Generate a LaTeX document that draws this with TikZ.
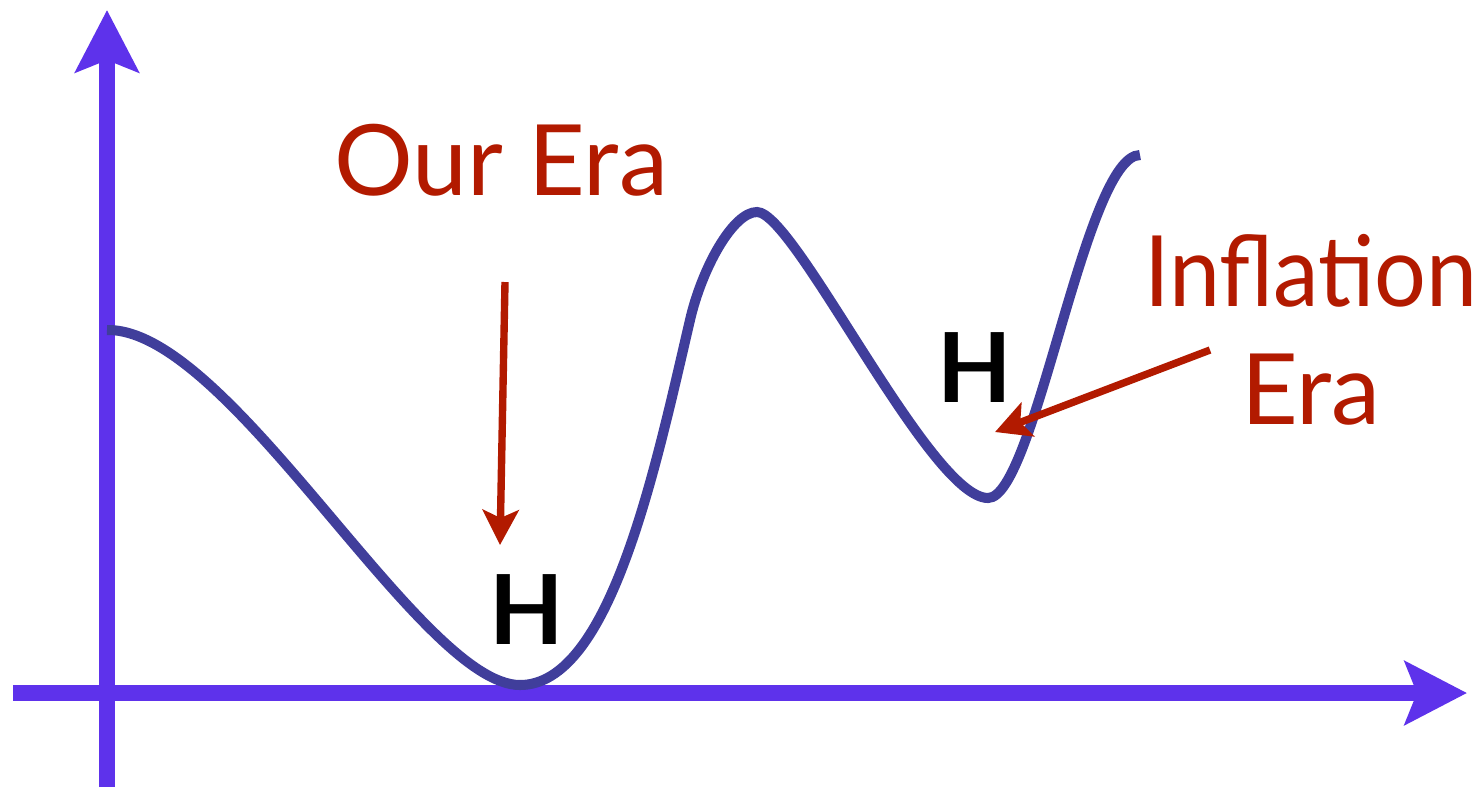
\documentclass[tikz,border=0pt]{standalone}
\usepackage{fontspec}
\setmainfont{Lato}
\usetikzlibrary{arrows.meta}
\definecolor{axisblue}{RGB}{94,50,235}
\definecolor{curveblue}{RGB}{64,62,155}
\definecolor{erared}{RGB}{178,26,0}
\begin{document}
\begin{tikzpicture}[
  x=0.01cm, y=-0.01cm,
  axis/.style={draw=axisblue, line width=4.5pt, -{Stealth[length=6.2mm, width=6.3mm, inset=1.2mm]}},
  potential/.style={draw=curveblue, line width=2.85pt},
  eralabel/.style={text=erared, font=\fontsize{28}{33.5}\selectfont, inner sep=0pt},
  higgs/.style={font=\bfseries\fontsize{27.5}{30}\selectfont, inner sep=0pt},
  pointer/.style={draw=erared, line width=2.1pt, -{Stealth[length=3.5mm, width=3.6mm, inset=0.8mm]}}
]
\useasboundingbox (0,0) rectangle (1479,787);
% axes
\draw[axis] (107,787) -- (107,10);
\draw[axis] (13,693) -- (1467,693);
% potential
\draw[potential] (107,330) .. controls (230,328) and (420,685) .. (520,685)
  .. controls (610,685) and (655,470) .. (690,320)
  .. controls (702,268) and (733,212) .. (757,212)
  .. controls (795,212) and (930,498) .. (988,498)
  .. controls (1035,498) and (1085,155) .. (1140,155);
% labels
\node[eralabel, anchor=base] (ourera) at (501,195) {Our Era};
\node[eralabel, align=center] (inflation) at (1311,330) {\scalebox{0.93}[1]{Inflation}\\Era};
\node[higgs] (hlow) at (527,610) {H};
\node[higgs] (hhigh) at (975,368) {H};
\coordinate (ourtail) at (505,282);
\coordinate (ourtip) at (500,545);
\coordinate (inftail) at (1210,350);
\coordinate (inftip) at (995,432);
\draw[pointer] (ourtail) -- (ourtip);
\draw[pointer] (inftail) -- (inftip);
\end{tikzpicture}
\end{document}
